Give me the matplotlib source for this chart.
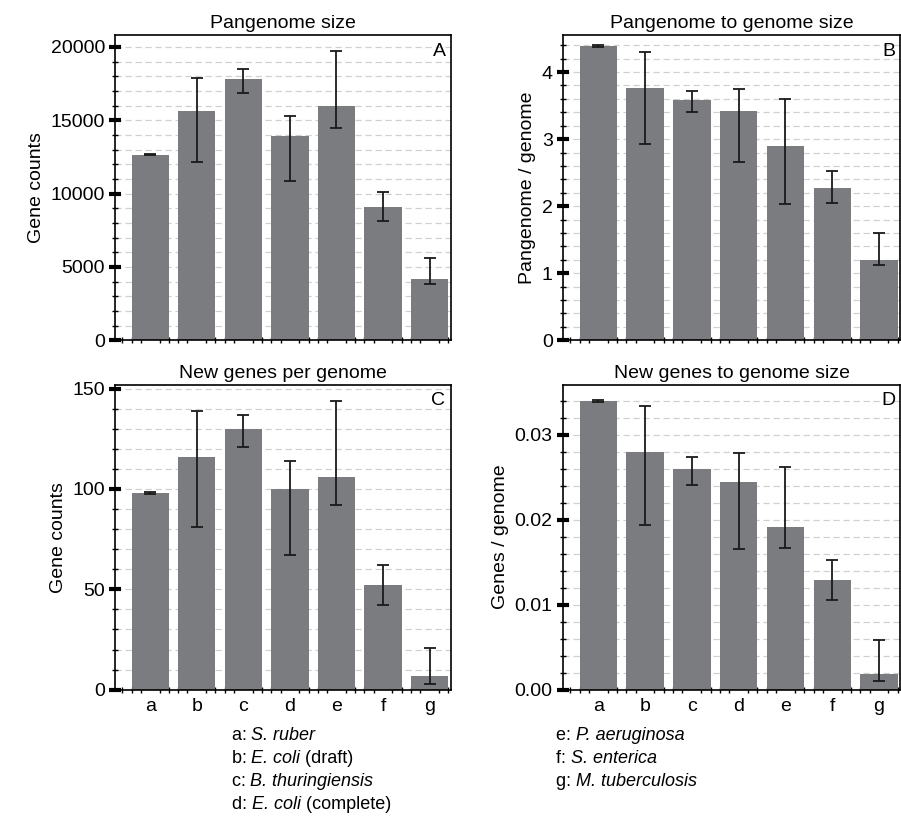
import numpy as np
import matplotlib
matplotlib.use("Agg")
import matplotlib.pyplot as plt
from matplotlib.ticker import MultipleLocator

plt.rcParams["font.family"] = ["Liberation Sans", "DejaVu Sans"]

labels = ["a", "b", "c", "d", "e", "f", "g"]

pan_size = [12650, 15650, 17800, 13950, 15950, 9100, 4200]
pan_size_lo = [12600, 12150, 16850, 10850, 14500, 8100, 3850]
pan_size_hi = [12700, 17850, 18500, 15300, 19750, 10100, 5600]

pan_ratio = [4.39, 3.76, 3.58, 3.42, 2.90, 2.27, 1.19]
pan_ratio_lo = [4.37, 2.92, 3.40, 2.66, 2.03, 2.04, 1.12]
pan_ratio_hi = [4.40, 4.30, 3.72, 3.75, 3.60, 2.52, 1.60]

new_genes = [98, 116, 130, 100, 106, 52, 7]
new_genes_lo = [97.5, 81, 121, 67, 92, 42, 3]
new_genes_hi = [98.5, 139, 137, 114, 144, 62, 21]

new_ratio = [0.0340, 0.0280, 0.0260, 0.0245, 0.0192, 0.0129, 0.0019]
new_ratio_lo = [0.0339, 0.0194, 0.0241, 0.0165, 0.0167, 0.0105, 0.0010]
new_ratio_hi = [0.0341, 0.0334, 0.0274, 0.0279, 0.0262, 0.0153, 0.0059]

panels = [
    ("Pangenome size", "A", "Gene counts", pan_size, pan_size_lo, pan_size_hi, 20800, 5000, 1000, "%d"),
    ("Pangenome to genome size", "B", "Pangenome / genome", pan_ratio, pan_ratio_lo, pan_ratio_hi, 4.55, 1, 0.2, "%d"),
    ("New genes per genome", "C", "Gene counts", new_genes, new_genes_lo, new_genes_hi, 152, 50, 10, "%d"),
    ("New genes to genome size", "D", "Genes / genome", new_ratio, new_ratio_lo, new_ratio_hi, 0.0359, 0.01, 0.002, "%.2f"),
]

fig = plt.figure(figsize=(9.01, 8.38), dpi=100)
rects = [
    (0.128, 0.594, 0.372, 0.364),
    (0.625, 0.594, 0.374, 0.364),
    (0.128, 0.177, 0.372, 0.364),
    (0.625, 0.177, 0.374, 0.364),
]
x = np.arange(len(labels))
for rect, (title, tag, ylab, vals, lo, hi, ymax, major, minor, fmt) in zip(rects, panels):
    ax = fig.add_axes(rect)
    ax.bar(x, vals, width=0.8, color="#7b7c80", zorder=2)
    yerr = [np.array(vals) - np.array(lo), np.array(hi) - np.array(vals)]
    ax.errorbar(x, vals, yerr=yerr, fmt="none", ecolor="#1a1a1a", elinewidth=1.3, capsize=4, capthick=1.3, zorder=3)
    ax.set_xlim(-0.75, 6.45)
    ax.set_ylim(0, ymax)
    ax.yaxis.set_major_locator(MultipleLocator(major))
    ax.yaxis.set_minor_locator(MultipleLocator(minor))
    ax.yaxis.set_major_formatter(plt.FormatStrFormatter(fmt))
    ax.xaxis.set_minor_locator(MultipleLocator(0.2))
    ax.grid(which="both", axis="y", color="#d0d0d0", linestyle=(0, (5, 3)), linewidth=0.9, zorder=0)
    ax.tick_params(which="major", direction="inout", length=8, width=3, labelsize=14)
    ax.tick_params(which="minor", direction="inout", length=4, width=1)
    ax.tick_params(axis="x", which="major", direction="in", length=8, pad=6)
    ax.set_xticks(x)
    ax.set_xticklabels(labels if tag in "CD" else [])
    ax.set_title(title, fontsize=14, pad=5)
    ax.set_ylabel(ylab, fontsize=14)
    ax.text(0.985, 0.975, tag, transform=ax.transAxes, ha="right", va="top", fontsize=14)
    for s in ax.spines.values():
        s.set_linewidth(1.2)

left_keys = [("a", "S. ruber", ""), ("b", "E. coli", " (draft)"), ("c", "B. thuringiensis", ""), ("d", "E. coli", " (complete)")]
right_keys = [("e", "P. aeruginosa", ""), ("f", "S. enterica", ""), ("g", "M. tuberculosis", "")]
for col_x, keys in [(0.257, left_keys), (0.617, right_keys)]:
    for i, (k, name, extra) in enumerate(keys):
        y = 0.117 - i * 0.0275
        t = fig.text(col_x, y, k + ": ", fontsize=13, va="baseline")
        t = fig.text(0, 0, name, fontsize=13, style="italic", va="baseline",
                     transform=matplotlib.transforms.offset_copy(t.get_transform(), fig=fig, x=0, y=0))
        t.remove()
        prev = fig.texts[-1]
        it = fig.add_artist(matplotlib.text.Annotation(name, xy=(1, 0), xycoords=prev, fontsize=13,
                                                        style="italic", va="bottom"))
        if extra:
            fig.add_artist(matplotlib.text.Annotation(extra, xy=(1, 0), xycoords=it, fontsize=13, va="bottom"))

fig.savefig("out.png", dpi=100)
